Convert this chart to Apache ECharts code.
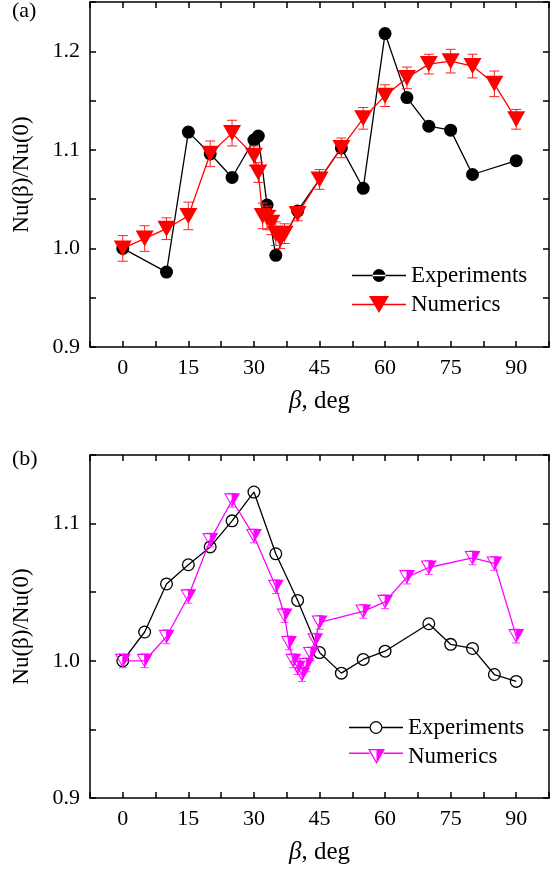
<!DOCTYPE html>
<html>
<head>
    <meta charset="utf-8"/>
    <title>Nu(beta)/Nu(0)</title>
    <script src="https://cdn.jsdelivr.net/npm/echarts@6/dist/echarts.min.js"></script>
    <style>
        html, body { margin: 0; padding: 0; background: #fff; }
        #chart { width: 552px; height: 871px; }
    </style>
</head>
<body>
<div id="chart"></div>
<script>
    // ---- data (a) ----
    var betaExpA = [0, 10, 15, 20, 25, 30, 31, 33, 35, 40, 50, 55, 60, 65, 70, 75, 80, 90];
    var nuExpA = [1.000, 0.976, 1.118, 1.096, 1.072, 1.110, 1.114, 1.044, 0.993, 1.038, 1.102, 1.061, 1.218, 1.153, 1.124, 1.120, 1.075, 1.089];
    var betaNumA = [0, 5, 10, 15, 20, 25, 30, 31, 32, 33, 34, 35, 36, 37, 40, 45, 50, 55, 60, 65, 70, 75, 80, 85, 90];
    var nuNumA = [1.000, 1.010, 1.020, 1.033, 1.096, 1.117, 1.094, 1.077, 1.033, 1.031, 1.026, 1.015, 1.010, 1.015, 1.035, 1.070, 1.102, 1.132, 1.155, 1.173, 1.187, 1.190, 1.185, 1.167, 1.131];
    var errNumA = [0.013, 0.013, 0.011, 0.014, 0.013, 0.013, 0.010, 0.010, 0.013, 0.012, 0.012, 0.012, 0.010, 0.010, 0.007, 0.010, 0.010, 0.011, 0.011, 0.011, 0.010, 0.012, 0.012, 0.013, 0.010];

    // ---- data (b) ----
    var betaExpB = [0, 5, 10, 15, 20, 25, 30, 35, 40, 45, 50, 55, 60, 70, 75, 80, 85, 90];
    var nuExpB = [1.000, 1.021, 1.056, 1.070, 1.083, 1.102, 1.123, 1.078, 1.044, 1.006, 0.991, 1.001, 1.007, 1.027, 1.012, 1.009, 0.990, 0.985];
    var betaNumB = [0, 5, 10, 15, 20, 25, 30, 35, 37, 38, 39, 40, 41, 42, 43, 44, 45, 55, 60, 65, 70, 80, 85, 90];
    var nuNumB = [1.000, 1.000, 1.0175, 1.047, 1.088, 1.117, 1.091, 1.054, 1.033, 1.013, 1.000, 0.995, 0.990, 0.997, 1.005, 1.015, 1.028, 1.036, 1.043, 1.061, 1.068, 1.075, 1.071, 1.018];
    var errNumB = [0.005, 0.005, 0.005, 0.005, 0.005, 0.005, 0.005, 0.005, 0.005, 0.005, 0.005, 0.005, 0.005, 0.005, 0.005, 0.005, 0.005, 0.005, 0.005, 0.005, 0.005, 0.005, 0.005, 0.005];

    // tick labels
    var xTickLabels = ['0', '15', '30', '45', '60', '75', '90'];
    var yTickLabelsA = ['0.9', '1.0', '1.1', '1.2'];
    var yTickLabelsB = ['0.9', '1.0', '1.1'];

    var FONT = "'Liberation Serif', 'Times New Roman', serif";

    var zip = function (xs, ys, es) {
        var out = [];
        for (var i = 0; i < xs.length; i++) {
            out.push(es ? [xs[i], ys[i], es[i]] : [xs[i], ys[i]]);
        }
        return out;
    };

    // symbols
    var ringCircle = 'path://M0,10A10,10 0 1,0 20,10A10,10 0 1,0 0,10Z M2,10A8,8 0 1,1 18,10A8,8 0 1,1 2,10Z';
    // down triangle: left half as outline band, right half solid (no overlapping parts)
    var halfTriangle = 'path://M9,0L18,0L9,15Z M0,0L9,0L9,1.2L2,1.2L9,12.7L9,15Z';

    // legend icons (line + marker)
    var iconExpA = 'path://M0,5.75L54,5.75L54,7.25L0,7.25Z M20.5,6.5A6.5,6.5 0 1,0 33.5,6.5A6.5,6.5 0 1,0 20.5,6.5Z';
    var iconNumA = 'path://M0,7.75L54,7.75L54,9.25L0,9.25Z M17,0L37,0L27,17Z';
    var iconExpB = 'path://M0,5.85L20.5,5.85L20.5,7.15L0,7.15Z M33.5,5.85L54,5.85L54,7.15L33.5,7.15Z ' +
        'M20.5,6.5A6.5,6.5 0 1,0 33.5,6.5A6.5,6.5 0 1,0 20.5,6.5Z M21.8,6.5A5.2,5.2 0 1,1 32.2,6.5A5.2,5.2 0 1,1 21.8,6.5Z';
    var iconNumB = 'path://M0,3.6L20.6,3.6L20.6,4.9L0,4.9Z M34.4,3.6L54,3.6L54,4.9L34.4,4.9Z ' +
        'M27.5,0L36,0L27.5,15Z M19,0L27.5,0L27.5,1.3L21.2,1.3L27.5,12.5L27.5,15Z';

    var xFormatter = function (v) {
        var s = String(Math.round(v));
        return (Math.abs(v - Math.round(v)) < 1e-6 && xTickLabels.indexOf(s) >= 0) ? s : '';
    };
    var yFormatter = function (labels) {
        return function (v) {
            var s = v.toFixed(2);
            if (s.charAt(s.length - 1) !== '0') return '';
            s = v.toFixed(1);
            return labels.indexOf(s) >= 0 ? s : '';
        };
    };

    var axisLine = {show: true, onZero: false, lineStyle: {color: '#000', width: 1.5}};
    var axisTick = {show: true, inside: true, length: 6, lineStyle: {color: '#000', width: 1.5}};

    var makeX = function (grid, pos, withLabel) {
        return {
            type: 'value', gridIndex: grid, position: pos,
            min: -7.5, max: 97.5, interval: 7.5,
            axisLine: axisLine, axisTick: axisTick, splitLine: {show: false},
            axisLabel: {show: withLabel, formatter: xFormatter, margin: 10,
                color: '#000', fontFamily: FONT, fontSize: 22},
            name: withLabel ? '{i|β}, deg' : '',
            nameLocation: 'middle', nameGap: 42,
            nameTextStyle: {color: '#000', fontFamily: FONT, fontSize: 25,
                rich: {i: {fontStyle: 'italic', fontFamily: FONT, fontSize: 25, color: '#000'}}}
        };
    };
    var makeY = function (grid, pos, withLabel, min, max, labels) {
        return {
            type: 'value', gridIndex: grid, position: pos,
            min: min, max: max, interval: 0.05,
            axisLine: axisLine, axisTick: axisTick, splitLine: {show: false},
            axisLabel: {show: withLabel, formatter: yFormatter(labels), margin: 10,
                color: '#000', fontFamily: FONT, fontSize: 22},
            name: withLabel ? 'Nu(β)/Nu(0)' : '',
            nameLocation: 'middle', nameGap: 57,
            nameTextStyle: {color: '#000', fontFamily: FONT, fontSize: 23}
        };
    };

    var errRender = function (capHalf, color) {
        return function (params, api) {
            var x = api.value(0), y = api.value(1), e = api.value(2);
            var hi = api.coord([x, y + e]);
            var lo = api.coord([x, y - e]);
            var st = {stroke: color, lineWidth: 1};
            return {
                type: 'group',
                children: [
                    {type: 'line', shape: {x1: hi[0], y1: hi[1], x2: lo[0], y2: lo[1]}, style: st},
                    {type: 'line', shape: {x1: hi[0] - capHalf, y1: hi[1], x2: hi[0] + capHalf, y2: hi[1]}, style: st},
                    {type: 'line', shape: {x1: lo[0] - capHalf, y1: lo[1], x2: lo[0] + capHalf, y2: lo[1]}, style: st}
                ]
            };
        };
    };

    var chart = echarts.init(document.getElementById('chart'), null, {renderer: 'canvas'});
    var option = {
        backgroundColor: '#fff',
        animation: false,
        title: [
            {text: '(a)', left: 12, top: 0, padding: 0,
                textStyle: {fontFamily: FONT, fontSize: 22, fontWeight: 'normal', color: '#000'}},
            {text: '(b)', left: 12, top: 448, padding: 0,
                textStyle: {fontFamily: FONT, fontSize: 22, fontWeight: 'normal', color: '#000'}}
        ],
        grid: [
            {left: 90, top: 2, width: 464, height: 345},
            {left: 90, top: 455, width: 464, height: 343}
        ],
        xAxis: [
            makeX(0, 'bottom', true), makeX(0, 'top', false),
            makeX(1, 'bottom', true), makeX(1, 'top', false)
        ],
        yAxis: [
            makeY(0, 'left', true, 0.9, 1.25, yTickLabelsA), makeY(0, 'right', false, 0.9, 1.25, yTickLabelsA),
            makeY(1, 'left', true, 0.9, 1.15, yTickLabelsB), makeY(1, 'right', false, 0.9, 1.15, yTickLabelsB)
        ],
        legend: [
            {
                left: 352, top: 264, orient: 'vertical', padding: 0,
                itemWidth: 54, itemHeight: 17, itemGap: 6, selectedMode: false,
                itemStyle: {borderWidth: 0},
                textStyle: {fontFamily: FONT, fontSize: 23, color: '#000'},
                data: [
                    {name: 'Experiments', icon: iconExpA, itemStyle: {color: '#000'}},
                    {name: 'Numerics', icon: iconNumA, itemStyle: {color: '#ff0000'}}
                ]
            },
            {
                left: 349, top: 716, orient: 'vertical', padding: 0,
                itemWidth: 54, itemHeight: 17, itemGap: 6, selectedMode: false,
                itemStyle: {borderWidth: 0},
                textStyle: {fontFamily: FONT, fontSize: 23, color: '#000'},
                data: [
                    {name: 'Experiments', icon: iconExpB, itemStyle: {color: '#000'}},
                    {name: 'Numerics', icon: iconNumB, itemStyle: {color: '#ff00ff'}}
                ]
            }
        ],
        series: [
            // (a)
            {
                name: 'Experiments', type: 'line', xAxisIndex: 0, yAxisIndex: 0,
                data: zip(betaExpA, nuExpA), z: 2,
                symbol: 'circle', symbolSize: 13,
                itemStyle: {color: '#000', borderWidth: 0},
                lineStyle: {color: '#000', width: 1.3}
            },
            {
                name: 'NumericsErr', type: 'custom', xAxisIndex: 0, yAxisIndex: 0,
                data: zip(betaNumA, nuNumA, errNumA), z: 3, silent: true,
                encode: {x: 0, y: 1},
                renderItem: errRender(5, '#ff2020')
            },
            {
                name: 'Numerics', type: 'line', xAxisIndex: 0, yAxisIndex: 0,
                data: zip(betaNumA, nuNumA), z: 4,
                symbol: 'triangle', symbolRotate: 180, symbolSize: [18, 16],
                itemStyle: {color: '#ff0000', borderWidth: 0},
                lineStyle: {color: '#ff0000', width: 1.3}
            },
            // (b)
            {
                name: 'Experiments', type: 'line', xAxisIndex: 2, yAxisIndex: 2,
                data: zip(betaExpB, nuExpB), z: 2,
                symbol: ringCircle, symbolSize: 13,
                itemStyle: {color: '#000', borderWidth: 0},
                lineStyle: {color: '#000', width: 1.3}
            },
            {
                name: 'NumericsErrB', type: 'custom', xAxisIndex: 2, yAxisIndex: 2,
                data: zip(betaNumB, nuNumB, errNumB), z: 3, silent: true,
                encode: {x: 0, y: 1},
                renderItem: errRender(4, '#ff33ff')
            },
            {
                name: 'Numerics', type: 'line', xAxisIndex: 2, yAxisIndex: 2,
                data: zip(betaNumB, nuNumB), z: 4,
                symbol: halfTriangle, symbolSize: [16, 14],
                itemStyle: {color: '#ff00ff', borderWidth: 0},
                lineStyle: {color: '#ff00ff', width: 1.3}
            }
        ]
    };
    chart.setOption(option);
</script>
</body>
</html>
